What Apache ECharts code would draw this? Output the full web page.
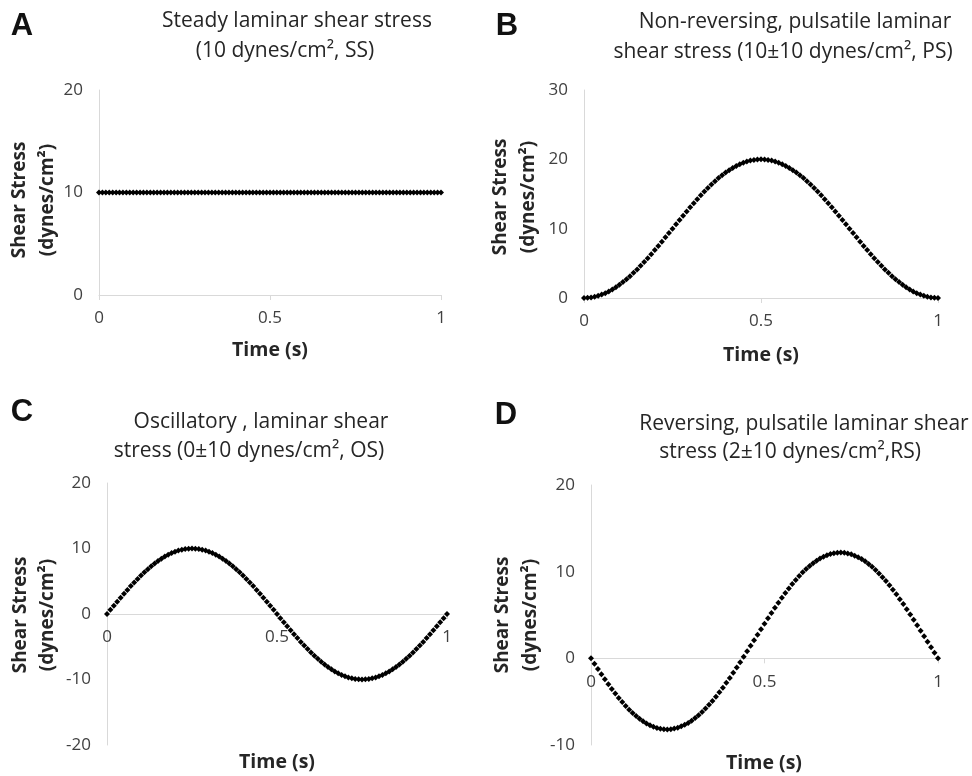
<!DOCTYPE html>
<html>
<head>
<meta charset="utf-8">
<script src="https://cdn.jsdelivr.net/npm/echarts@6/dist/echarts.min.js"></script>
<style>
html,body{margin:0;padding:0;background:#fff;}
#chart{width:972px;height:776px;}
</style>
</head>
<body>
<div id="chart"></div>
<script>
// Time axis (s)
const time = [0,0.01,0.02,0.03,0.04,0.05,0.06,0.07,0.08,0.09,0.1,0.11,0.12,0.13,0.14,0.15,0.16,0.17,0.18,0.19,0.2,0.21,0.22,0.23,0.24,0.25,0.26,0.27,0.28,0.29,0.3,0.31,0.32,0.33,0.34,0.35,0.36,0.37,0.38,0.39,0.4,0.41,0.42,0.43,0.44,0.45,0.46,0.47,0.48,0.49,0.5,0.51,0.52,0.53,0.54,0.55,0.56,0.57,0.58,0.59,0.6,0.61,0.62,0.63,0.64,0.65,0.66,0.67,0.68,0.69,0.7,0.71,0.72,0.73,0.74,0.75,0.76,0.77,0.78,0.79,0.8,0.81,0.82,0.83,0.84,0.85,0.86,0.87,0.88,0.89,0.9,0.91,0.92,0.93,0.94,0.95,0.96,0.97,0.98,0.99,1];

// A: steady laminar shear stress (SS)
const ssValues = [10,10,10,10,10,10,10,10,10,10,10,10,10,10,10,10,10,10,10,10,10,10,10,10,10,10,10,10,10,10,10,10,10,10,10,10,10,10,10,10,10,10,10,10,10,10,10,10,10,10,10,10,10,10,10,10,10,10,10,10,10,10,10,10,10,10,10,10,10,10,10,10,10,10,10,10,10,10,10,10,10,10,10,10,10,10,10,10,10,10,10,10,10,10,10,10,10,10,10,10,10];

// B: non-reversing pulsatile (PS)
const psValues = [0,0.02,0.08,0.18,0.31,0.49,0.70,0.95,1.24,1.56,1.91,2.29,2.71,3.15,3.63,4.12,4.64,5.18,5.74,6.32,6.91,7.51,8.13,8.75,9.37,10,
10.63,11.25,11.87,12.49,13.09,13.68,14.26,14.82,15.36,15.88,16.37,16.85,17.29,17.71,18.09,18.44,18.76,19.05,19.30,19.51,19.69,19.82,19.92,19.98,20,
19.98,19.92,19.82,19.69,19.51,19.30,19.05,18.76,18.44,18.09,17.71,17.29,16.85,16.37,15.88,15.36,14.82,14.26,13.68,13.09,12.49,11.87,11.25,10.63,10,
9.37,8.75,8.13,7.51,6.91,6.32,5.74,5.18,4.64,4.12,3.63,3.15,2.71,2.29,1.91,1.56,1.24,0.95,0.70,0.49,0.31,0.18,0.08,0.02,0];

// C: oscillatory (OS)
const osValues = [0,0.63,1.25,1.87,2.49,3.09,3.68,4.26,4.82,5.36,5.88,6.37,6.85,7.29,7.71,8.09,8.44,8.76,9.05,9.30,9.51,9.69,9.82,9.92,9.98,10,
9.98,9.92,9.82,9.69,9.51,9.30,9.05,8.76,8.44,8.09,7.71,7.29,6.85,6.37,5.88,5.36,4.82,4.26,3.68,3.09,2.49,1.87,1.25,0.63,0,
-0.63,-1.25,-1.87,-2.49,-3.09,-3.68,-4.26,-4.82,-5.36,-5.88,-6.37,-6.85,-7.29,-7.71,-8.09,-8.44,-8.76,-9.05,-9.30,-9.51,-9.69,-9.82,-9.92,-9.98,-10,
-9.98,-9.92,-9.82,-9.69,-9.51,-9.30,-9.05,-8.76,-8.44,-8.09,-7.71,-7.29,-6.85,-6.37,-5.88,-5.36,-4.82,-4.26,-3.68,-3.09,-2.49,-1.87,-1.25,-0.63,0];

// D: reversing pulsatile (RS)
const rsValues = [0,-0.62,-1.24,-1.84,-2.42,-2.99,-3.54,-4.07,-4.57,-5.05,-5.50,-5.92,-6.30,-6.66,-6.98,-7.27,-7.52,-7.73,-7.90,-8.03,-8.13,-8.18,-8.20,-8.17,-8.11,-8.00,
-7.85,-7.67,-7.45,-7.19,-6.89,-6.56,-6.20,-5.80,-5.37,-4.91,-4.43,-3.92,-3.39,-2.83,-2.26,-1.67,-1.06,-0.45,0.18,0.81,1.45,2.09,2.73,3.37,4.00,
4.62,5.24,5.84,6.42,6.99,7.54,8.07,8.57,9.05,9.50,9.92,10.30,10.66,10.98,11.27,11.52,11.73,11.90,12.03,12.13,12.18,12.20,12.17,12.11,12.00,
11.85,11.67,11.45,11.19,10.89,10.56,10.20,9.80,9.37,8.91,8.43,7.92,7.39,6.83,6.26,5.67,5.06,4.45,3.82,3.19,2.55,1.91,1.27,0.63,0];

// Texts
const panelLetters = ['A','B','C','D'];
const titleLines = [
  ['Steady laminar shear stress', '(10 dynes/cm\u00B2, SS)'],
  ['Non-reversing, pulsatile laminar', 'shear stress (10\u00B110 dynes/cm\u00B2, PS)'],
  ['Oscillatory , laminar shear', 'stress (0\u00B110 dynes/cm\u00B2, OS)'],
  ['Reversing, pulsatile laminar shear', 'stress (2\u00B110 dynes/cm\u00B2,RS)']
];
const yNameLines = ['Shear Stress', '(dynes/cm\u00B2)'];
const xName = 'Time (s)';
const yRanges = [[0,20],[0,30],[-20,20],[-10,20]];
const seriesValues = [ssValues, psValues, osValues, rsValues];

// Layout (positions/sizes)
const grids = [
  {left:99, top:90, width:342, height:205},
  {left:584, top:90, width:354, height:208},
  {left:107, top:483, width:340, height:262},
  {left:591, top:485, width:347, height:260}
];
const letterPos = [[22,26],[507,26],[22,412],[506,415]];
const titlePos = [
  [[297,21],[285,51]],
  [[795,22],[783,52]],
  [[261,422],[249,451]],
  [[804,424],[790,452]]
];
const yNamePos = [[[20,200],[48,200]],[[501,197],[529,197]],[[21,615],[48,615]],[[503,615],[531,615]]];
const xNamePos = [[270,350],[761,355],[277,762],[764,763]];

const FONT = '"Open Sans", "Liberation Sans", sans-serif';
const axisGray = '#d9d9d9';

function txt(x, y, text, opts) {
  opts = opts || {};
  return {
    type: 'text', x: x, y: y, rotation: opts.rotation || 0, silent: true,
    style: {
      text: text,
      fontSize: opts.size || 19,
      fontWeight: opts.weight || 'normal',
      fontFamily: opts.family || FONT,
      fill: opts.color || '#262626',
      align: 'center', verticalAlign: 'middle',
      textAlign: 'center', textVerticalAlign: 'middle'
    }
  };
}

const graphic = [];
for (let i = 0; i < 4; i++) {
  graphic.push(txt(letterPos[i][0], letterPos[i][1], panelLetters[i], {size: 31, weight: 'bold', family: '"Liberation Sans", Arial, sans-serif', color: '#111'}));
  graphic.push(txt(titlePos[i][0][0], titlePos[i][0][1], titleLines[i][0], {size: 21}));
  graphic.push(txt(titlePos[i][1][0], titlePos[i][1][1], titleLines[i][1], {size: 21}));
  graphic.push(txt(yNamePos[i][0][0], yNamePos[i][0][1], yNameLines[0], {size: 19, weight: 'bold', rotation: Math.PI/2}));
  graphic.push(txt(yNamePos[i][1][0], yNamePos[i][1][1], yNameLines[1], {size: 19, weight: 'bold', rotation: Math.PI/2}));
  graphic.push(txt(xNamePos[i][0], xNamePos[i][1], xName, {size: 19.5, weight: 'bold'}));
}

// x axis sits at y = 0: shift it up from the grid bottom by the zero position
const xAxes = grids.map((g, i) => {
  const r = yRanges[i];
  const zeroShift = g.height * (0 - r[0]) / (r[1] - r[0]);
  return {
    type: 'value', gridIndex: i, min: 0, max: 1, interval: 0.5,
    position: 'bottom', offset: -zeroShift,
    axisLine: {show: true, onZero: false, lineStyle: {color: axisGray, width: 1}},
    axisTick: {show: true, length: 5, lineStyle: {color: axisGray}},
    axisLabel: {margin: 15, fontSize: 17, color: '#404040', fontFamily: FONT},
    splitLine: {show: false}
  };
});
const yAxes = grids.map((g, i) => ({
  type: 'value', gridIndex: i, min: yRanges[i][0], max: yRanges[i][1], interval: 10,
  axisLine: {show: true, onZero: false, lineStyle: {color: axisGray, width: 1}},
  axisTick: {show: false},
  axisLabel: {margin: 16, fontSize: 17, color: '#404040', fontFamily: FONT},
  splitLine: {show: false}
}));
const series = seriesValues.map((vals, i) => ({
  type: 'scatter', xAxisIndex: i, yAxisIndex: i,
  symbol: 'diamond', symbolSize: 6,
  itemStyle: {color: '#000', opacity: 1},
  data: time.map((t, k) => [t, vals[k]]),
  silent: true
}));

const chart = echarts.init(document.getElementById('chart'));
chart.setOption({
  animation: false,
  backgroundColor: '#fff',
  grid: grids.map(g => Object.assign({containLabel: false}, g)),
  xAxis: xAxes,
  yAxis: yAxes,
  series: series,
  graphic: graphic
});
</script>
</body>
</html>
